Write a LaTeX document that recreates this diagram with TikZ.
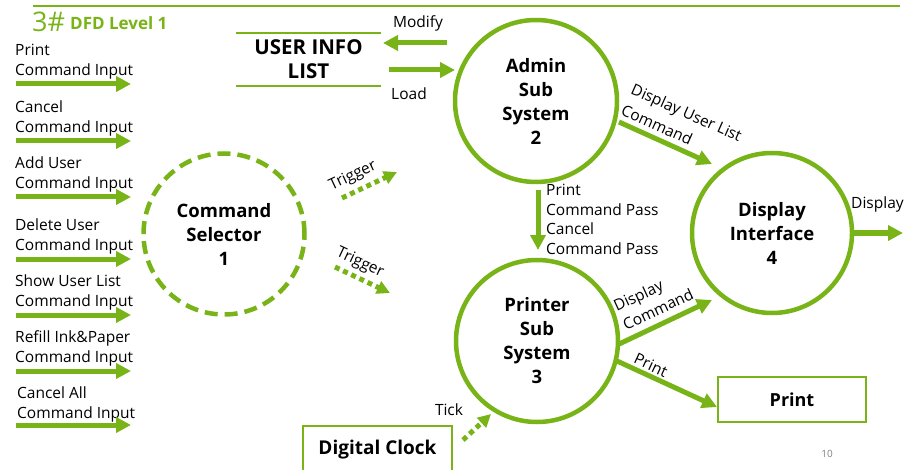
\documentclass[tikz,border=0pt]{standalone}
\usepackage{fontspec}
\setmainfont{Open Sans}
\usetikzlibrary{arrows.meta}
\definecolor{grn}{RGB}{120,180,24}
\begin{document}
\begin{tikzpicture}[x=1pt,y=-1pt,
  lbl/.style={font=\fontsize{15.5}{19.5}\selectfont, inner sep=0pt, align=left},
  proc/.style={circle, draw=grn, line width=4.5pt, inner sep=0pt, align=center,
               font=\bfseries\fontsize{18.5}{24}\selectfont},
  procdash/.style={proc, dash pattern=on 13pt off 7pt},
  bigarrow/.style={draw=grn, line width=5pt, -{Triangle[length=15pt,width=15pt]}},
  dotarrow/.style={draw=grn, line width=5pt, dash pattern=on 5pt off 4pt,
                   -{Triangle[length=13pt,width=13pt]}},
  boxnode/.style={draw=grn, line width=2.5pt, inner sep=0pt,
                  font=\bfseries\fontsize{18}{22}\selectfont}]
\useasboundingbox (0,0) rectangle (909,470);
\clip (0,0) rectangle (909,470);
% top rule and title
\coordinate (ruleL) at (33,6);
\coordinate (ruleR) at (900,6);
\draw[grn, line width=2pt] (ruleL) -- (ruleR);
\node[anchor=west, inner sep=0pt, text=grn, font=\fontsize{27}{30}\selectfont] (t3) at (32,22) {3\#};
\node[anchor=west, inner sep=0pt, text=grn, font=\bfseries\fontsize{17}{20}\selectfont] (ttl) at (70,23) {DFD Level 1};
% left inputs
\foreach \i/\t/\y/\xx in {1/Print/61.5/15, 2/Cancel/118.5/15, 3/Add User/174.5/15, 4/Delete User/236.5/15,
    5/Show User List/292.5/15, 6/Refill Ink\&Paper/348.5/15, 7/Cancel All/404.5/17}{
  \node[lbl, anchor=west] (in\i) at (\xx,\y) {\t\\Command Input};
}
\foreach \i/\y in {1/84, 2/141, 3/197, 4/259, 5/315, 6/371, 7/425}{
  \coordinate (ia\i) at (16,\y);
  \coordinate (ib\i) at (131,\y);
  \draw[bigarrow] (ia\i) -- (ib\i);
}
% processes
\node[procdash, minimum size=161pt] (cs) at (224,234) {Command\\Selector\\1};
\node[proc, minimum size=162pt] (adm) at (536,101) {Admin\\Sub\\System\\2};
\node[proc, minimum size=160pt] (disp) at (772,233) {Display\\Interface\\4};
\node[proc, minimum size=162pt] (prn) at (537,341) {Printer\\Sub\\System\\3};
% user info list store
\node[inner sep=0pt, minimum width=145pt, minimum height=53pt, align=center,
      font=\bfseries\fontsize{20.5}{24}\selectfont] (uil) at (308.5,59.5) {USER INFO\\LIST};
\draw[grn, line width=2pt] (uil.north west) -- (uil.north east);
\draw[grn, line width=2pt] (uil.south west) -- (uil.south east);
% terminators
\node[boxnode, minimum width=148pt, minimum height=45pt] (pbox) at (792,399.5) {Print};
\node[boxnode, minimum width=149pt, minimum height=48pt, font=\bfseries\fontsize{19}{22}\selectfont] (clk) at (377.5,450) {Digital Clock};
% modify / load
\coordinate (modS) at (447,43); \coordinate (modE) at (383,43);
\draw[bigarrow] (modS) -- (modE);
\node[lbl] (modL) at (418,23) {Modify};
\coordinate (loadS) at (389,70); \coordinate (loadE) at (455,70);
\draw[bigarrow] (loadS) -- (loadE);
\node[lbl] (loadL) at (409,94) {Load};
% triggers
\coordinate (tr1S) at (342,198); \coordinate (tr1E) at (397,172);
\draw[dotarrow] (tr1S) -- (tr1E);
\node[lbl, rotate=25] (tr1L) at (353,176) {Trigger};
\coordinate (tr2S) at (335,267); \coordinate (tr2E) at (390,293);
\draw[dotarrow] (tr2S) -- (tr2E);
\node[lbl, rotate=-25] (tr2L) at (360,263) {Trigger};
% admin -> display
\coordinate (a2dS) at (619,122); \coordinate (a2dE) at (712,164);
\draw[bigarrow] (a2dS) -- (a2dE);
\node[lbl, rotate=-24] (a2dL1) at (686,114) {Display User List};
\node[lbl, rotate=-24] (a2dL2) at (657,125) {Command};
% admin -> printer
\coordinate (a2pS) at (538,190); \coordinate (a2pE) at (538,250);
\draw[bigarrow] (a2pS) -- (a2pE);
\node[lbl, anchor=west, text depth=0pt] (a2pL) at (546,219.5) {Print\\Command Pass\\Cancel\\Command Pass};
% printer -> display
\coordinate (p2dS) at (617,345); \coordinate (p2dE) at (712,300);
\draw[bigarrow] (p2dS) -- (p2dE);
\node[lbl, rotate=25] (p2dL1) at (639,297) {Display};
\node[lbl, rotate=25] (p2dL2) at (658,309) {Command};
% printer -> print
\coordinate (p2bS) at (617,361); \coordinate (p2bE) at (717,407);
\draw[bigarrow] (p2bS) -- (p2bE);
\node[lbl, rotate=-25] (p2bL) at (651,365) {Print};
% display out
\coordinate (doS) at (853,233); \coordinate (doE) at (903,233);
\draw[bigarrow] (doS) -- (doE);
\node[lbl, anchor=west] (doL) at (851,204) {Display};
% tick
\coordinate (tkS) at (463,440); \coordinate (tkE) at (491,414);
\draw[dotarrow] (tkS) -- (tkE);
\node[lbl] (tkL) at (449,410) {Tick};
% page number
\node[inner sep=0pt, text=gray, font=\fontsize{10}{12}\selectfont] (pg) at (827,454) {10};
\end{tikzpicture}
\end{document}
